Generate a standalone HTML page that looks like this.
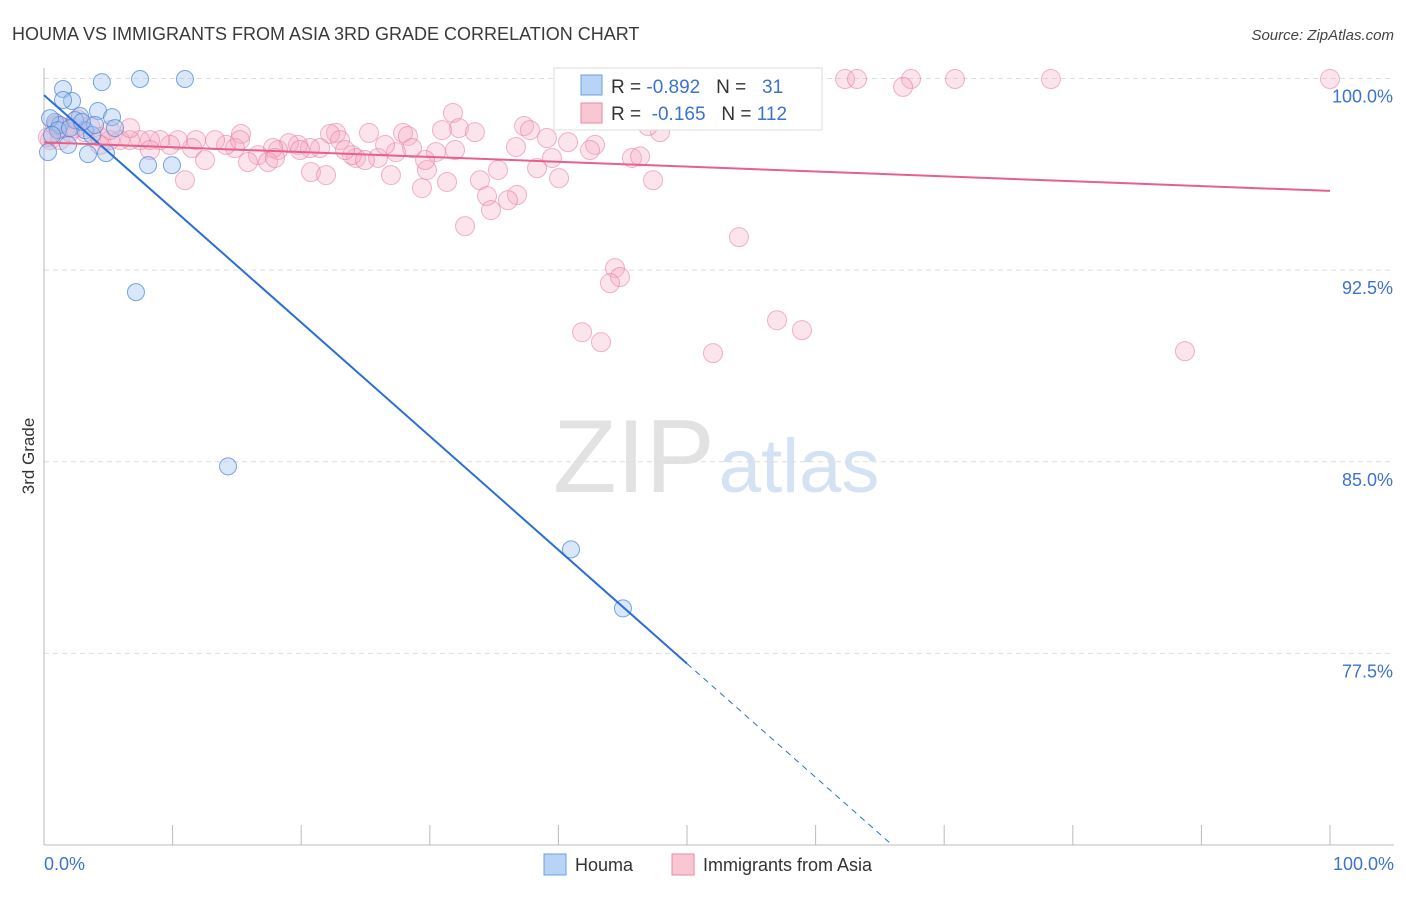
<!DOCTYPE html>
<html><head><meta charset="utf-8"><style>
body{margin:0;background:#fff;font-family:"Liberation Sans",sans-serif;}
svg text{font-family:"Liberation Sans",sans-serif;white-space:pre;}
</style></head><body>
<svg id="chart" width="1406" height="892" xmlns="http://www.w3.org/2000/svg">
<text x="12" y="40" font-size="18" fill="#3a3a3a">HOUMA VS IMMIGRANTS FROM ASIA 3RD GRADE CORRELATION CHART</text>
<text x="1394" y="40" font-size="15" fill="#444" text-anchor="end" font-style="italic">Source: ZipAtlas.com</text>
<text x="553" y="492" font-size="104" fill="#e2e2e2" font-family="Liberation Serif">ZIP<tspan fill="#d4e2f4" font-family="Liberation Sans" font-size="76" dx="4">atlas</tspan></text>
<g id="grid"></g>
<g id="axes"></g>
<g id="pinkpts"></g>
<g id="bluepts"></g>
<g id="lines"></g>
<text transform="translate(34,456) rotate(-90)" font-size="17" fill="#333" text-anchor="middle">3rd Grade</text>
<g>
<rect x="554" y="68" width="268" height="62" fill="#fff" stroke="#ddd"/>
<rect x="581" y="75" width="21" height="20" fill="#b8d3f5" stroke="#6a9fe0"/>
<rect x="581" y="103" width="21" height="20" fill="#f9c6d4" stroke="#e58aa6"/>
<text x="611" y="93" font-size="19" fill="#333" xml:space="preserve">R = <tspan fill="#3b73d0">-0.892</tspan>   N =   <tspan fill="#3b73d0">31</tspan></text>
<text x="611" y="120" font-size="19" fill="#333" xml:space="preserve">R =  <tspan fill="#3b73d0">-0.165</tspan>   N = <tspan fill="#3b73d0">112</tspan></text>
</g>
<g>
<rect x="544" y="854" width="22" height="21" fill="#b8d3f5" stroke="#6a9fe0"/>
<text x="575" y="871" font-size="18" fill="#333">Houma</text>
<rect x="672" y="854" width="22" height="21" fill="#f9c6d4" stroke="#e58aa6"/>
<text x="703" y="871" font-size="18" fill="#333">Immigrants from Asia</text>
</g>
</svg>
<script>
const blueX=[4.5,7.47,10.96,1.48,2.18,1.48,4.2,5.29,2.8,0.86,1.24,3.19,3.73,0.31,1.87,3.42,4.82,8.09,9.95,7.15,14.31,40.98,45.02,0.47,2.41,5.52,3.97,1.09,2.02,2.95,0.62];
const blueY=[99.86,99.98,99.98,99.59,99.12,99.16,98.73,98.49,98.53,98.3,98.18,97.98,97.79,97.12,97.4,97.04,97.08,96.61,96.61,91.64,84.82,81.57,79.26,98.45,98.37,98.06,98.18,97.98,98.06,98.3,97.79];
const pinkX=[53.03,62.29,63.22,67.42,70.84,78.30,100,66.80,53.11,31.80,37.33,37.79,32.27,30.95,33.51,27.92,28.30,25.27,22.71,22.24,15.32,40.75,42.85,39.11,47.90,46.97,42.46,36.70,45.72,39.50,38.34,35.30,33.90,29.78,30.48,28.62,27.37,25.97,24.26,23.95,23.02,21.46,20.68,19.75,19.05,18.20,17.81,16.64,15.86,17.42,14.85,14.15,13.30,11.82,11.51,10.42,9.80,9.02,8.24,7.47,6.69,5.91,5.13,4.35,3.19,2.41,1.63,0.86,0.47,1.24,2.02,5.13,6.69,8.24,12.52,10.96,20.76,21.93,26.98,29.39,31.34,34.45,34.76,36.78,36.08,32.74,40.05,46.35,47.36,54.04,44.40,44.79,44.01,41.84,43.31,52.02,57.00,58.94,88.72,4.35,3.58,15.24,17.96,19.91,29.63,23.41,24.96,26.52,31.96,0.3,1.0,2.6];
const pinkY=[99.98,99.98,99.98,99.98,99.98,99.98,99.98,99.67,99.78,98.65,98.14,97.98,98.06,97.98,97.90,97.87,97.75,97.87,97.87,97.83,97.83,97.51,97.40,97.67,97.90,98.14,97.20,97.32,96.89,96.89,96.49,96.42,96.02,96.42,97.12,97.28,97.12,96.89,96.89,97.0,97.59,97.28,97.28,97.40,97.47,97.20,97.28,97.0,96.73,96.73,97.28,97.40,97.59,97.59,97.28,97.59,97.40,97.59,97.59,97.59,97.59,97.59,97.59,97.71,97.90,98.06,98.06,98.14,97.59,97.59,97.90,97.98,98.06,97.20,96.81,96.02,96.34,96.22,96.22,95.71,95.95,95.40,94.85,95.44,95.24,94.22,96.10,96.95,96.02,93.79,92.58,92.23,91.99,90.07,89.68,89.25,90.54,90.15,89.33,97.40,98.14,97.59,96.89,97.20,96.81,97.20,96.81,97.40,97.20,97.7,98.2,98.4];
const blueLine={x0:0,y0:99.35,x1:50,y1:77.1,xEnd:66.0};
const pinkLine={x0:0,y0:97.5,x1:100,y1:95.6};
const xTicks=[0,10,20,30,40,50,60,70,80,90,100];
const yTicks=[77.5,85,92.5,100];
const yTickLabels=["77.5%","85.0%","92.5%","100.0%"];
const X0=44,X1=1330,Ytop=78.5,Ybot=845;
const sx=v=>X0+(X1-X0)*v/100;
const sy=v=>Ytop+(100-v)*(Ybot-Ytop)/30;
const NS="http://www.w3.org/2000/svg";
function mk(tag,attrs,parent){const e=document.createElementNS(NS,tag);for(const k in attrs)e.setAttribute(k,attrs[k]);parent.appendChild(e);return e;}
const grid=document.getElementById('grid'),axes=document.getElementById('axes');
yTicks.forEach((t,i)=>{
 const g=mk('line',{x1:X0,x2:1394,y1:sy(t),y2:sy(t),stroke:'#ddd','stroke-dasharray':'5,4'},grid);
 
 
 const l=mk('text',{x:1393,y:sy(t)+24,'font-size':18,fill:'#3b73d0','text-anchor':'end'},axes);
 
 
 l.textContent=yTickLabels[i];
});
mk('line',{x1:X0,x2:X0,y1:68,y2:Ybot,stroke:'#bbb'},axes);
mk('line',{x1:X0,x2:1394,y1:Ybot,y2:Ybot,stroke:'#bbb'},axes);
xTicks.forEach(t=>{
 const k=mk('line',{x1:sx(t),x2:sx(t),y1:825,y2:Ybot,stroke:'#bbb'},axes);
 
 
});
const xl=mk('text',{x:44,y:870,'font-size':18,fill:'#3b73d0'},axes);


xl.textContent='0.0%';
const xr=mk('text',{x:1394,y:870,'font-size':18,fill:'#3b73d0','text-anchor':'end'},axes);


xr.textContent='100.0%';
const pp=document.getElementById('pinkpts');
pinkX.forEach((x,i)=>{
 const c=mk('circle',{cx:sx(x),cy:sy(pinkY[i]),r:9.5,fill:'rgba(246,170,195,0.32)',stroke:'rgba(232,120,155,0.55)','stroke-width':1},pp);
 
 
});
const bp=document.getElementById('bluepts');
blueX.forEach((x,i)=>{
 const c=mk('circle',{cx:sx(x),cy:sy(blueY[i]),r:8.5,fill:'rgba(160,195,240,0.4)',stroke:'rgba(70,130,215,0.7)','stroke-width':1},bp);
 
 
});
const ln=document.getElementById('lines');
const by=x=>blueLine.y0+(blueLine.y1-blueLine.y0)*x/blueLine.x1;
const b1=mk('line',{x1:sx(0),y1:sy(by(0)),x2:sx(blueLine.x1),y2:sy(by(blueLine.x1)),stroke:'#2a6fd6','stroke-width':2},ln);


const b2=mk('line',{x1:sx(blueLine.x1),y1:sy(by(blueLine.x1)),x2:sx(blueLine.xEnd),y2:sy(by(blueLine.xEnd)),stroke:'#2a6fd6','stroke-width':1,'stroke-dasharray':'6,5'},ln);


const p1=mk('line',{x1:sx(pinkLine.x0),y1:sy(pinkLine.y0),x2:sx(pinkLine.x1),y2:sy(pinkLine.y1),stroke:'#e8608a','stroke-width':2},ln);


</script>
</body></html>
